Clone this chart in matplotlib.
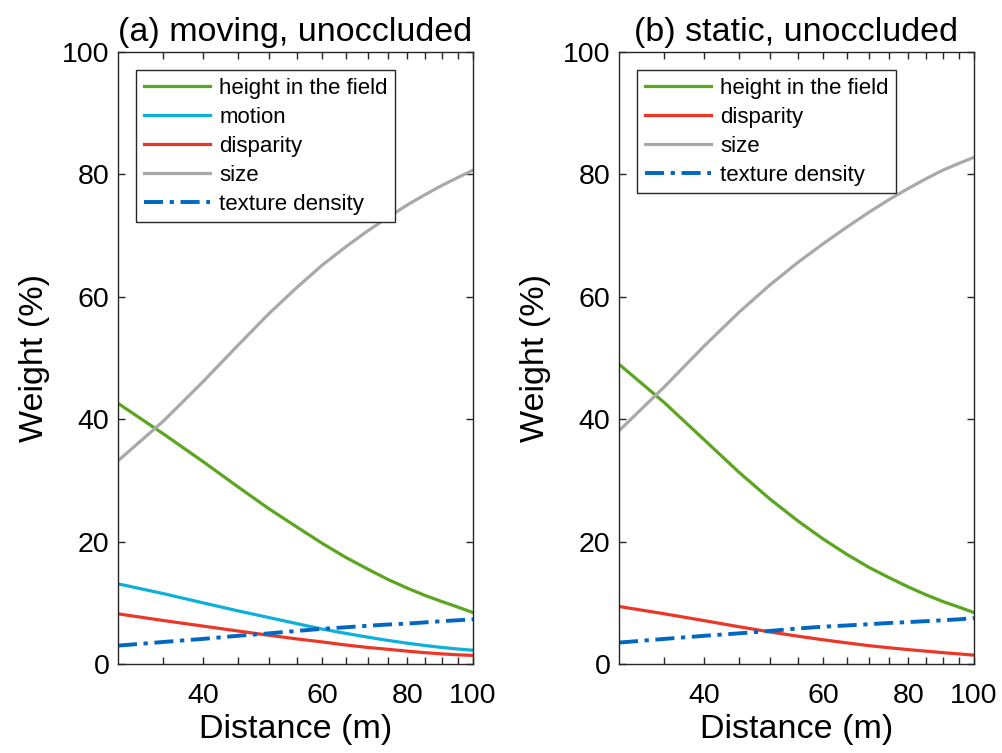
import numpy as np
import matplotlib
matplotlib.use('Agg')
import matplotlib.pyplot as plt
from matplotlib.ticker import FixedLocator, NullFormatter

plt.rcParams['font.family'] = ['Liberation Sans', 'DejaVu Sans']

# distances (m)
distance = [30, 35, 40, 45, 50, 55, 60, 65, 70, 75, 80, 85, 90, 95, 100]

# (a) moving, unoccluded
a_height = [42.6, 37.6, 33.1, 29.0, 25.4, 22.4, 19.7, 17.4, 15.5, 13.8, 12.4, 11.2, 10.2, 9.3, 8.4]
a_motion = [13.1, 11.5, 10.0, 8.7, 7.6, 6.6, 5.7, 5.0, 4.38, 3.85, 3.4, 3.02, 2.7, 2.45, 2.25]
a_disparity = [8.2, 7.1, 6.2, 5.4, 4.7, 4.1, 3.6, 3.1, 2.7, 2.4, 2.1, 1.85, 1.65, 1.5, 1.4]
a_size = [33.2, 39.7, 46.1, 52.0, 57.2, 61.5, 65.2, 68.2, 70.8, 73.0, 75.0, 76.7, 78.2, 79.5, 80.7]
a_texture = [3.0, 3.6, 4.1, 4.6, 5.0, 5.4, 5.75, 6.0, 6.25, 6.45, 6.6, 6.8, 7.0, 7.15, 7.3]

# (b) static, unoccluded
b_height = [49.0, 42.7, 36.7, 31.4, 27.0, 23.4, 20.4, 17.9, 15.8, 14.1, 12.6, 11.3, 10.2, 9.3, 8.4]
b_disparity = [9.4, 8.2, 7.1, 6.1, 5.25, 4.55, 3.95, 3.45, 3.0, 2.65, 2.35, 2.1, 1.85, 1.65, 1.45]
b_size = [38.1, 45.3, 51.9, 57.4, 61.9, 65.6, 68.7, 71.4, 73.8, 75.9, 77.7, 79.3, 80.7, 81.8, 82.8]
b_texture = [3.5, 4.1, 4.6, 5.0, 5.4, 5.8, 6.1, 6.3, 6.5, 6.7, 6.85, 7.0, 7.15, 7.3, 7.5]

c_green = '#5ba51f'
c_cyan = '#0db0da'
c_red = '#ec3628'
c_gray = '#a9a9a9'
c_blue = '#0068c0'
dashdot = (0, (4.9, 1.7, 1.1, 1.7))

fig = plt.figure(figsize=(10.03, 7.53), dpi=100)
ax1 = fig.add_axes([0.1176, 0.1182, 0.354, 0.8127])
ax2 = fig.add_axes([0.6171, 0.1182, 0.354, 0.8127])

ax1.plot(distance, a_height, color=c_green, lw=2.3, label='height in the field')
ax1.plot(distance, a_motion, color=c_cyan, lw=2.3, label='motion')
ax1.plot(distance, a_disparity, color=c_red, lw=2.3, label='disparity')
ax1.plot(distance, a_size, color=c_gray, lw=2.3, label='size')
ax1.plot(distance, a_texture, color=c_blue, lw=2.8, ls=dashdot, label='texture density')

ax2.plot(distance, b_height, color=c_green, lw=2.3, label='height in the field')
ax2.plot(distance, b_disparity, color=c_red, lw=2.3, label='disparity')
ax2.plot(distance, b_size, color=c_gray, lw=2.3, label='size')
ax2.plot(distance, b_texture, color=c_blue, lw=2.8, ls=dashdot, label='texture density')

titles = ['(a) moving, unoccluded', '(b) static, unoccluded']
for ax, title in zip([ax1, ax2], titles):
    ax.set_xscale('log')
    ax.set_xlim(30, 100)
    ax.set_ylim(0, 100)
    ax.xaxis.set_major_locator(FixedLocator([40, 60, 80, 100]))
    ax.xaxis.set_minor_locator(FixedLocator([35, 45, 50, 55, 65, 70, 75, 85, 90, 95]))
    ax.xaxis.set_minor_formatter(NullFormatter())
    ax.set_xticklabels(['40', '60', '80', '100'])
    ax.set_yticks([0, 20, 40, 60, 80, 100])
    ax.tick_params(which='both', direction='in', top=True, right=True,
                   length=5, width=1, color='#262626', labelsize=20.5)
    ax.tick_params(axis='x', pad=14)
    ax.tick_params(axis='y', pad=6)
    for s in ax.spines.values():
        s.set_color('#262626')
        s.set_linewidth(1)
    ax.set_title(title, fontsize=24.5, pad=8)
    ax.set_xlabel('Distance (m)', fontsize=24.5, labelpad=3)
    ax.set_ylabel('Weight (%)', fontsize=24.5, labelpad=9)
    leg = ax.legend(loc='upper left', fontsize=16, frameon=True, fancybox=False,
                    handlelength=3.0, handletextpad=0.4, labelspacing=0.36,
                    borderpad=0.35, borderaxespad=0.8, framealpha=1)
    leg.get_frame().set_edgecolor('#262626')
    leg.get_frame().set_linewidth(1)

fig.savefig('out.png', dpi=100)
